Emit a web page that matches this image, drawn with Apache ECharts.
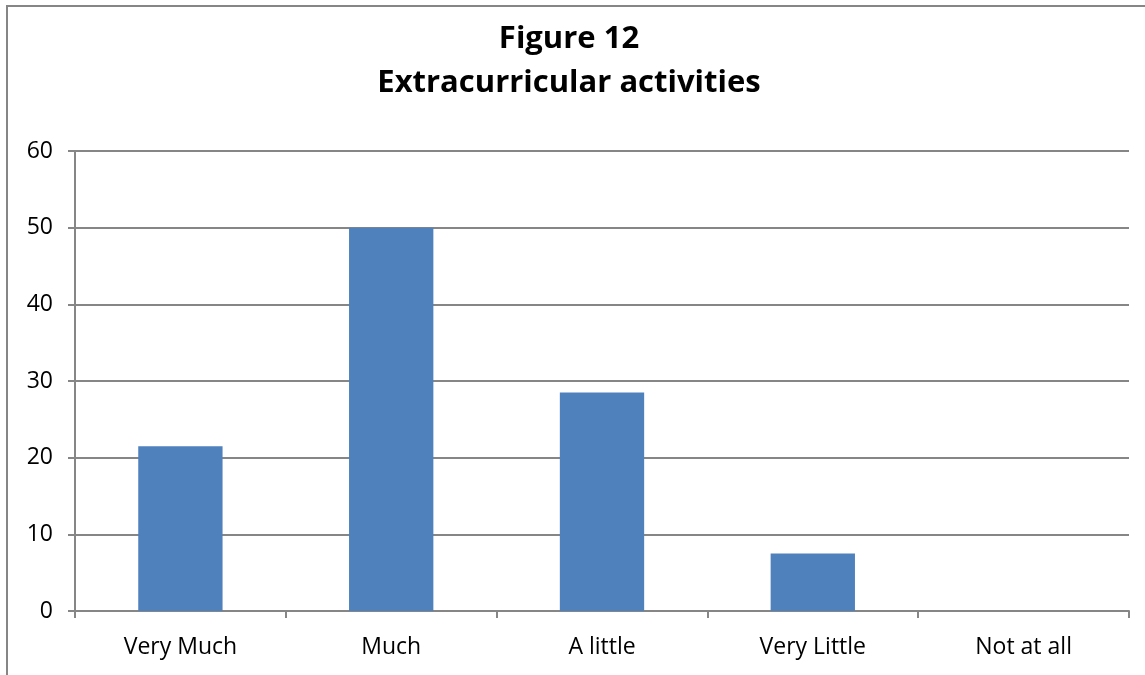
<!DOCTYPE html>
<html>
<head>
<meta charset="utf-8">
<script src="https://cdn.jsdelivr.net/npm/echarts@6/dist/echarts.min.js"></script>
<style>
  html, body { margin: 0; padding: 0; background: #fff; }
  #chart { width: 1145px; height: 675px; }
</style>
</head>
<body>
<div id="chart"></div>
<script>
const categories = ['Very Much', 'Much', 'A little', 'Very Little', 'Not at all']
const values = [21.5, 50, 28.5, 7.5, 0]
const titleLines = ['Figure 12', 'Extracurricular activities']

const chart = echarts.init(document.getElementById('chart'))
chart.setOption({
  animation: false,
  title: {
    text: titleLines.join('\n'),
    left: 564,
    top: 12,
    textAlign: 'center',
    textStyle: {
      fontFamily: 'Open Sans',
      fontWeight: 'bold',
      fontSize: 31,
      lineHeight: 44,
      color: '#000'
    }
  },
  graphic: [
    {
      type: 'polyline',
      shape: { points: [[7, 675], [7, 6], [1145, 6]] },
      style: { stroke: '#868686', lineWidth: 2, fill: null }
    }
  ],
  grid: { left: 75, right: 16, top: 151, bottom: 64 },
  xAxis: {
    type: 'category',
    data: categories,
    axisLine: { lineStyle: { color: '#868686', width: 2 } },
    axisTick: { show: true, length: 7, lineStyle: { color: '#868686', width: 2 } },
    axisLabel: { color: '#000', fontSize: 23, fontFamily: 'Open Sans', margin: 25 }
  },
  yAxis: {
    type: 'value',
    min: 0,
    max: 60,
    interval: 10,
    axisLine: { show: true, lineStyle: { color: '#868686', width: 2 } },
    axisTick: { show: true, length: 7, lineStyle: { color: '#868686', width: 2 } },
    splitLine: { lineStyle: { color: '#868686', width: 2 } },
    axisLabel: { color: '#000', fontSize: 23, fontFamily: 'Open Sans', margin: 22 }
  },
  series: [
    {
      type: 'bar',
      data: values,
      barCategoryGap: '60%',
      itemStyle: { color: '#4f81bd' }
    }
  ]
})
</script>
</body>
</html>
